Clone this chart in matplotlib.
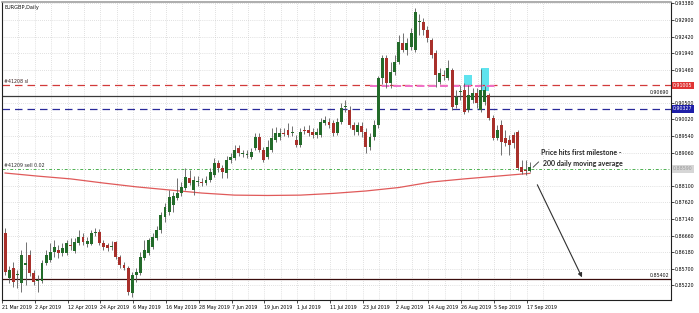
import matplotlib
matplotlib.use("Agg")
import matplotlib.pyplot as plt
from matplotlib.patches import Rectangle
import numpy as np

# ---------------- data (EURGBP daily, 21 Mar 2019 - 18 Sep 2019) ----------------
opens = [0.8673,0.8543,0.8572,0.8552,0.8529,0.8581,0.8610,0.8558,0.8534,0.8534,
         0.8587,0.8595,0.8618,0.8624,0.8616,0.8616,0.8639,0.8621,0.8644,0.8662,
         0.8642,0.8642,0.8673,0.8676,0.8644,0.8639,0.8633,0.8647,0.8604,0.8581,
         0.8572,0.8500,0.8552,0.8558,0.8601,0.8616,0.8633,0.8659,0.8682,0.8720,
         0.8734,0.8754,0.8775,0.8789,0.8804,0.8833,0.8798,0.8821,0.8821,0.8818,
         0.8827,0.8841,0.8876,0.8862,0.8847,0.8885,0.8891,0.8919,0.8902,0.8899,
         0.8893,0.8919,0.8951,0.8914,0.8893,0.8914,0.8943,0.8951,0.8963,0.8972,
         0.8963,0.8943,0.8928,0.8972,0.8972,0.8966,0.8957,0.8957,0.8992,0.8995,
         0.8992,0.8963,0.8995,0.9038,0.9030,0.8986,0.8966,0.8983,0.8966,0.8922,
         0.8951,0.8986,0.9122,0.9180,0.9108,0.9139,0.9168,0.9223,0.9203,0.9212,
         0.9203,0.9284,0.9284,0.9261,0.9232,0.9195,0.9111,0.9131,0.9122,0.9145,
         0.9044,0.9082,0.9087,0.9030,0.9058,0.9079,0.9030,0.9053,0.9073,0.9006,
         0.8948,0.8986,0.8948,0.8943,0.8957,0.8966,0.8864,0.8856,0.8853]
highs = [0.8688,0.8578,0.8589,0.8566,0.8624,0.8647,0.8624,0.8566,0.8552,0.8595,
         0.8624,0.8644,0.8653,0.8639,0.8644,0.8653,0.8659,0.8659,0.8682,0.8673,
         0.8662,0.8682,0.8688,0.8685,0.8653,0.8644,0.8650,0.8650,0.8610,0.8589,
         0.8578,0.8561,0.8572,0.8618,0.8653,0.8659,0.8673,0.8694,0.8734,0.8760,
         0.8798,0.8792,0.8833,0.8821,0.8862,0.8856,0.8838,0.8838,0.8833,0.8838,
         0.8862,0.8891,0.8885,0.8870,0.8896,0.8905,0.8928,0.8928,0.8914,0.8914,
         0.8919,0.8963,0.8963,0.8922,0.8943,0.8977,0.8980,0.8977,0.8977,0.8992,
         0.8983,0.8957,0.8977,0.8983,0.8986,0.8977,0.8977,0.9006,0.9012,0.9006,
         0.9000,0.9006,0.9050,0.9058,0.9041,0.8995,0.8995,0.8995,0.8977,0.8963,
         0.9000,0.9128,0.9189,0.9189,0.9168,0.9189,0.9247,0.9252,0.9238,0.9267,
         0.9325,0.9307,0.9296,0.9273,0.9238,0.9203,0.9151,0.9145,0.9174,0.9151,
         0.9087,0.9102,0.9108,0.9102,0.9093,0.9093,0.9148,0.9099,0.9079,0.9015,
         0.8986,0.9000,0.8972,0.8957,0.8966,0.8972,0.8885,0.8885,0.8879]
lows  = [0.8552,0.8529,0.8517,0.8514,0.8503,0.8523,0.8549,0.8523,0.8503,0.8529,
         0.8581,0.8589,0.8604,0.8601,0.8607,0.8610,0.8624,0.8616,0.8639,0.8639,
         0.8633,0.8639,0.8665,0.8639,0.8624,0.8621,0.8624,0.8598,0.8572,0.8566,
         0.8494,0.8489,0.8532,0.8552,0.8595,0.8610,0.8627,0.8653,0.8673,0.8705,
         0.8726,0.8734,0.8769,0.8781,0.8798,0.8812,0.8783,0.8809,0.8809,0.8812,
         0.8821,0.8836,0.8850,0.8833,0.8833,0.8876,0.8885,0.8896,0.8893,0.8891,
         0.8888,0.8914,0.8908,0.8879,0.8888,0.8908,0.8937,0.8943,0.8954,0.8951,
         0.8954,0.8922,0.8922,0.8960,0.8954,0.8948,0.8948,0.8951,0.8986,0.8977,
         0.8954,0.8957,0.8989,0.9024,0.8977,0.8957,0.8957,0.8951,0.8905,0.8914,
         0.8943,0.8977,0.9105,0.9093,0.9093,0.9131,0.9163,0.9197,0.9189,0.9203,
         0.9197,0.9247,0.9247,0.9226,0.9180,0.9096,0.9105,0.9116,0.9116,0.9030,
         0.9035,0.9058,0.9018,0.9024,0.9050,0.9035,0.9024,0.9044,0.9000,0.8943,
         0.8943,0.8899,0.8925,0.8899,0.8919,0.8856,0.8844,0.8841,0.8850]
closes = [0.8561,0.8566,0.8532,0.8555,0.8610,0.8587,0.8558,0.8532,0.8537,0.8587,
          0.8610,0.8618,0.8633,0.8616,0.8630,0.8644,0.8636,0.8647,0.8662,0.8647,
          0.8650,0.8673,0.8676,0.8644,0.8633,0.8630,0.8636,0.8604,0.8581,0.8572,
          0.8503,0.8552,0.8561,0.8604,0.8624,0.8653,0.8662,0.8682,0.8726,0.8749,
          0.8778,0.8781,0.8789,0.8807,0.8836,0.8818,0.8827,0.8824,0.8818,0.8827,
          0.8850,0.8876,0.8862,0.8850,0.8885,0.8893,0.8914,0.8905,0.8905,0.8902,
          0.8908,0.8951,0.8914,0.8885,0.8922,0.8948,0.8963,0.8963,0.8960,0.8957,
          0.8966,0.8928,0.8966,0.8969,0.8963,0.8957,0.8966,0.8995,0.9000,0.8986,
          0.8963,0.8995,0.9035,0.9041,0.8986,0.8972,0.8986,0.8966,0.8922,0.8951,
          0.8986,0.9122,0.9180,0.9108,0.9139,0.9168,0.9226,0.9203,0.9223,0.9252,
          0.9313,0.9287,0.9261,0.9238,0.9189,0.9131,0.9137,0.9128,0.9151,0.9038,
          0.9067,0.9084,0.9024,0.9073,0.9079,0.9050,0.9087,0.9087,0.9006,0.8948,
          0.8972,0.8937,0.8934,0.8928,0.8934,0.8862,0.8850,0.8853,0.8864]

# 200-day moving average, sampled every 8 bars
ma_bar = [0, 8, 16, 24, 32, 40, 48, 56, 64, 72, 80, 88, 96, 104, 112, 120, 128]
ma_val = [0.8847,0.8838,0.8830,0.8818,0.8807,0.8798,0.8789,0.8783,0.8782,0.8783,
          0.8788,0.8795,0.8805,0.8821,0.8830,0.8838,0.8846]

date_labels = ["21 Mar 2019","2 Apr 2019","12 Apr 2019","24 Apr 2019","6 May 2019",
               "16 May 2019","28 May 2019","7 Jun 2019","19 Jun 2019","1 Jul 2019",
               "11 Jul 2019","23 Jul 2019","2 Aug 2019","14 Aug 2019","26 Aug 2019",
               "5 Sep 2019","17 Sep 2019"]
price_ticks = [0.93380,0.92900,0.92420,0.91940,0.91460,0.90500,0.90020,0.89540,
               0.89060,0.88100,0.87620,0.87140,0.86660,0.86180,0.85700,0.85220]

sl_level = 0.91005       # red dashed
black_level = 0.90690    # black line
blue_level = 0.90327     # blue dashed
sell_level = 0.88590     # green dotted
target_level = 0.85402   # bottom line
pink_level = 0.90975
pink_span = (89, 119.5)
cyan_boxes = [(112.0, 113.9, 0.9102, 0.9131), (116.1, 118.0, 0.9084, 0.9151)]

# ---------------- drawing ----------------
W, H = 699, 313
fig = plt.figure(figsize=(W/100, H/100), dpi=100)
fig.patch.set_facecolor("white")
ax = fig.add_axes([2/W, 13/H, 669/W, 298/H])
ax.set_xlim(-0.73, 162.4)
ax.set_ylim(0.84794, 0.93421)

n = len(opens)
x = np.arange(n)
o = np.array(opens); c = np.array(closes); h = np.array(highs); l = np.array(lows)
up = c >= o

# grid / ticks
tick_pos = np.arange(len(date_labels)) * 8 - 0.75
ax.set_xticks(tick_pos)
ax.set_xticks(tick_pos + 4, minor=True)
ax.set_xticklabels(date_labels, ha="left")
ax.yaxis.tick_right()
ax.set_yticks(price_ticks)
ax.set_yticklabels([f"{v:.5f}" for v in price_ticks])
ax.grid(True, which="both", axis="x", color="#c4c4c4", lw=0.5, ls=(0, (1, 2)))
ax.grid(True, which="major", axis="y", color="#c4c4c4", lw=0.5, ls=(0, (1, 2)))
ax.tick_params(axis="x", which="major", length=2, pad=1.5, labelsize=3.4, width=0.5)
ax.tick_params(axis="x", which="minor", length=0)
ax.tick_params(axis="y", length=2, pad=1, labelsize=3.4, width=0.5)
ax.set_axisbelow(True)

for s in ["left", "bottom", "right"]:
    ax.spines[s].set_color("#202020"); ax.spines[s].set_linewidth(0.8)
ax.spines["top"].set_color("#a0a0a0"); ax.spines["top"].set_linewidth(1.2)

# cyan highlight boxes
for x0, x1, y0, y1 in cyan_boxes:
    ax.add_patch(Rectangle((x0, y0), x1 - x0, y1 - y0, color="#5fe3ee", lw=0, zorder=1.5))

# horizontal levels
ax.axhline(sl_level, color="#d23a3a", lw=0.9, ls=(0, (6, 4)), zorder=2)
ax.axhline(black_level, color="#3a3a3a", lw=0.9, zorder=2)
ax.axhline(blue_level, color="#2a2a9a", lw=0.9, ls=(0, (6, 4)), zorder=2)
ax.axhline(sell_level, color="#4cb050", lw=0.7, ls=(0, (3, 2, 1, 2)), zorder=2)
ax.axhline(target_level, color="#3a0c0c", lw=0.9, zorder=2)
ax.plot(pink_span, [pink_level, pink_level], color="#f070c8", lw=1.4, ls=(0, (4, 2)), zorder=2)

# moving average
ax.plot(ma_bar, ma_val, color="#e05a5a", lw=0.9, zorder=2.5)

# candles
ax.vlines(x, l, h, color="#5a5a5a", lw=0.6, zorder=3)
body_h = np.maximum(np.abs(c - o), 0.00012)
ax.bar(x[up], body_h[up], bottom=np.minimum(o, c)[up], width=0.72,
       color="#236b2a", lw=0, zorder=4)
ax.bar(x[~up], body_h[~up], bottom=np.minimum(o, c)[~up], width=0.72,
       color="#a8302b", lw=0, zorder=4)

# annotation
ax.annotate("", xy=(140.7, 0.8545), xytext=(129.8, 0.8813),
            arrowprops=dict(arrowstyle="-|>", color="#303030", lw=0.8,
                            mutation_scale=6, shrinkA=0, shrinkB=0), zorder=5)
ax.plot([128.8, 130.1], [0.8864, 0.8879], color="#303030", lw=0.6, zorder=5)
afont = ["Lato", "DejaVu Sans"]
ax.text(130.7, 0.8905, "Price hits first milestone -", fontsize=5.0, fontweight="bold",
        family=afont, color="#262626", ha="left", va="center", zorder=6)
ax.text(131.2, 0.8876, "200 daily moving average", fontsize=5.0, fontweight="bold",
        family=afont, color="#262626", ha="left", va="center", zorder=6)

# labels inside plot
ax.text(0.003, 0.99, "EURGBP,Daily", transform=ax.transAxes, fontsize=3.6,
        ha="left", va="top", color="#111111")
ax.text(0.003, sl_level + 0.0003, "#41208 sl", fontsize=3.4, ha="left", va="bottom",
        color="#3a2020", transform=ax.get_yaxis_transform())
ax.text(0.003, sell_level + 0.0003, "#41209 sell 0.02", fontsize=3.4, ha="left",
        va="bottom", color="#2a2a2a", transform=ax.get_yaxis_transform())
ax.text(0.997, black_level + 0.0003, f"{black_level:.5f}", fontsize=3.4, ha="right",
        va="bottom", color="#111111", transform=ax.get_yaxis_transform())
ax.text(0.997, target_level + 0.0003, f"{target_level:.5f}", fontsize=3.4, ha="right",
        va="bottom", color="#111111", transform=ax.get_yaxis_transform())

# price boxes on the right axis
def price_box(val, fc, tc):
    ax.text(1.003, val, f"{val:.5f}", transform=ax.get_yaxis_transform(),
            fontsize=3.4, ha="left", va="center", color=tc, clip_on=False, zorder=10,
            bbox=dict(boxstyle="square,pad=0.25", fc=fc, ec=fc, lw=0))

price_box(sl_level, "#e03434", "white")
price_box(blue_level, "#1e1ea8", "white")
price_box(sell_level, "#d6d6d6", "#9a9a9a")

fig.savefig("out.png", dpi=100, facecolor="white")
